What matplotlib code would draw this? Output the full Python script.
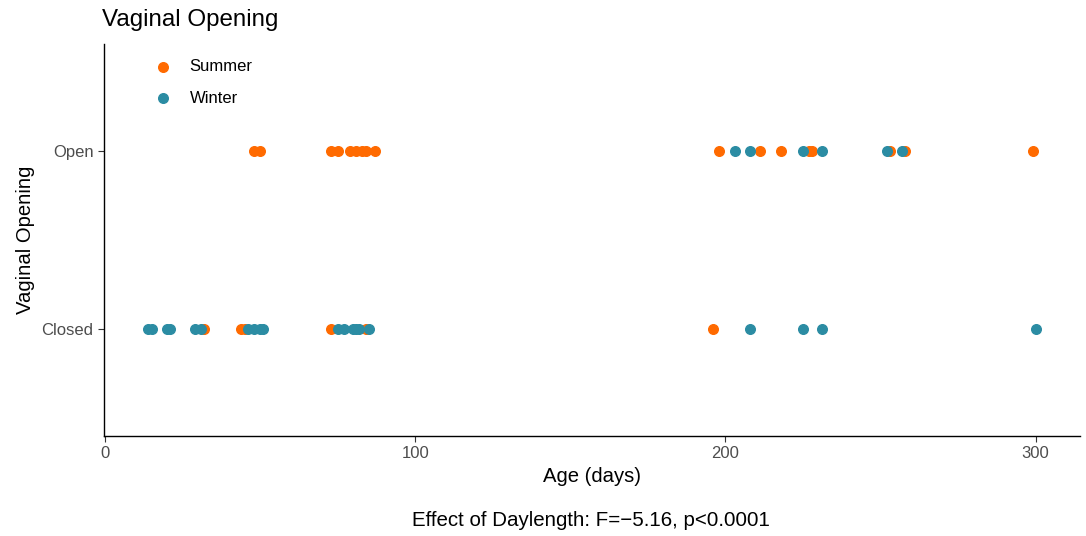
import matplotlib
matplotlib.use("Agg")
from matplotlib import pyplot as plt

# Age (days) for each observation, split by season and vaginal state
summer_open = [48, 50, 73, 75, 79, 81, 83, 84, 87, 198, 211, 218, 227, 228, 253, 258, 299]
summer_closed = [32, 44, 45, 73, 84, 196]
winter_open = [203, 208, 225, 231, 252, 257]
winter_closed = [14, 15, 20, 21, 29, 31, 46, 48, 50, 51, 75, 77, 80, 81, 82, 85,
                 208, 225, 231, 300]

categories = ["Closed", "Open"]
orange = "#FF6A00"
teal = "#2B8CA3"

plt.rcParams['font.family'] = ['Liberation Sans', 'DejaVu Sans']

fig = plt.figure(figsize=(10.86, 5.36), dpi=100)
ax = fig.add_axes([0.0958, 0.1866, 0.8987, 0.7314])

ax.scatter(summer_open, [2] * len(summer_open), s=48, color=orange, label="Summer", zorder=2)
ax.scatter(summer_closed, [1] * len(summer_closed), s=48, color=orange, zorder=2)
ax.scatter(winter_open, [2] * len(winter_open), s=48, color=teal, label="Winter", zorder=3)
ax.scatter(winter_closed, [1] * len(winter_closed), s=48, color=teal, zorder=3)

ax.set_xlim(-0.3, 314.3)
ax.set_ylim(0.4, 2.6)
ax.set_xticks([0, 100, 200, 300])
ax.set_yticks([1, 2])
ax.set_yticklabels(categories)

for side in ["top", "right"]:
    ax.spines[side].set_visible(False)
for side in ["left", "bottom"]:
    ax.spines[side].set_linewidth(1.0)
    ax.spines[side].set_color("black")
ax.tick_params(axis="both", labelsize=12, labelcolor="#4d4d4d", color="#333333", length=4)

ax.set_xlabel("Age (days)", fontsize=14.6, labelpad=4)
ax.set_ylabel("Vaginal Opening", fontsize=14.6, labelpad=5)
fig.text(0.094, 0.943, "Vaginal Opening", fontsize=17.4, ha="left", va="bottom")
fig.text(0.544, 0.012, "Effect of Daylength: F=\u22125.16, p<0.0001", fontsize=14.8,
         ha="center", va="bottom")

ax.legend(loc="upper left", bbox_to_anchor=(0.028, 1.0), frameon=False, fontsize=12,
          handletextpad=0.6, labelspacing=1.0, markerscale=1.0)

fig.savefig("out.png", dpi=100)
